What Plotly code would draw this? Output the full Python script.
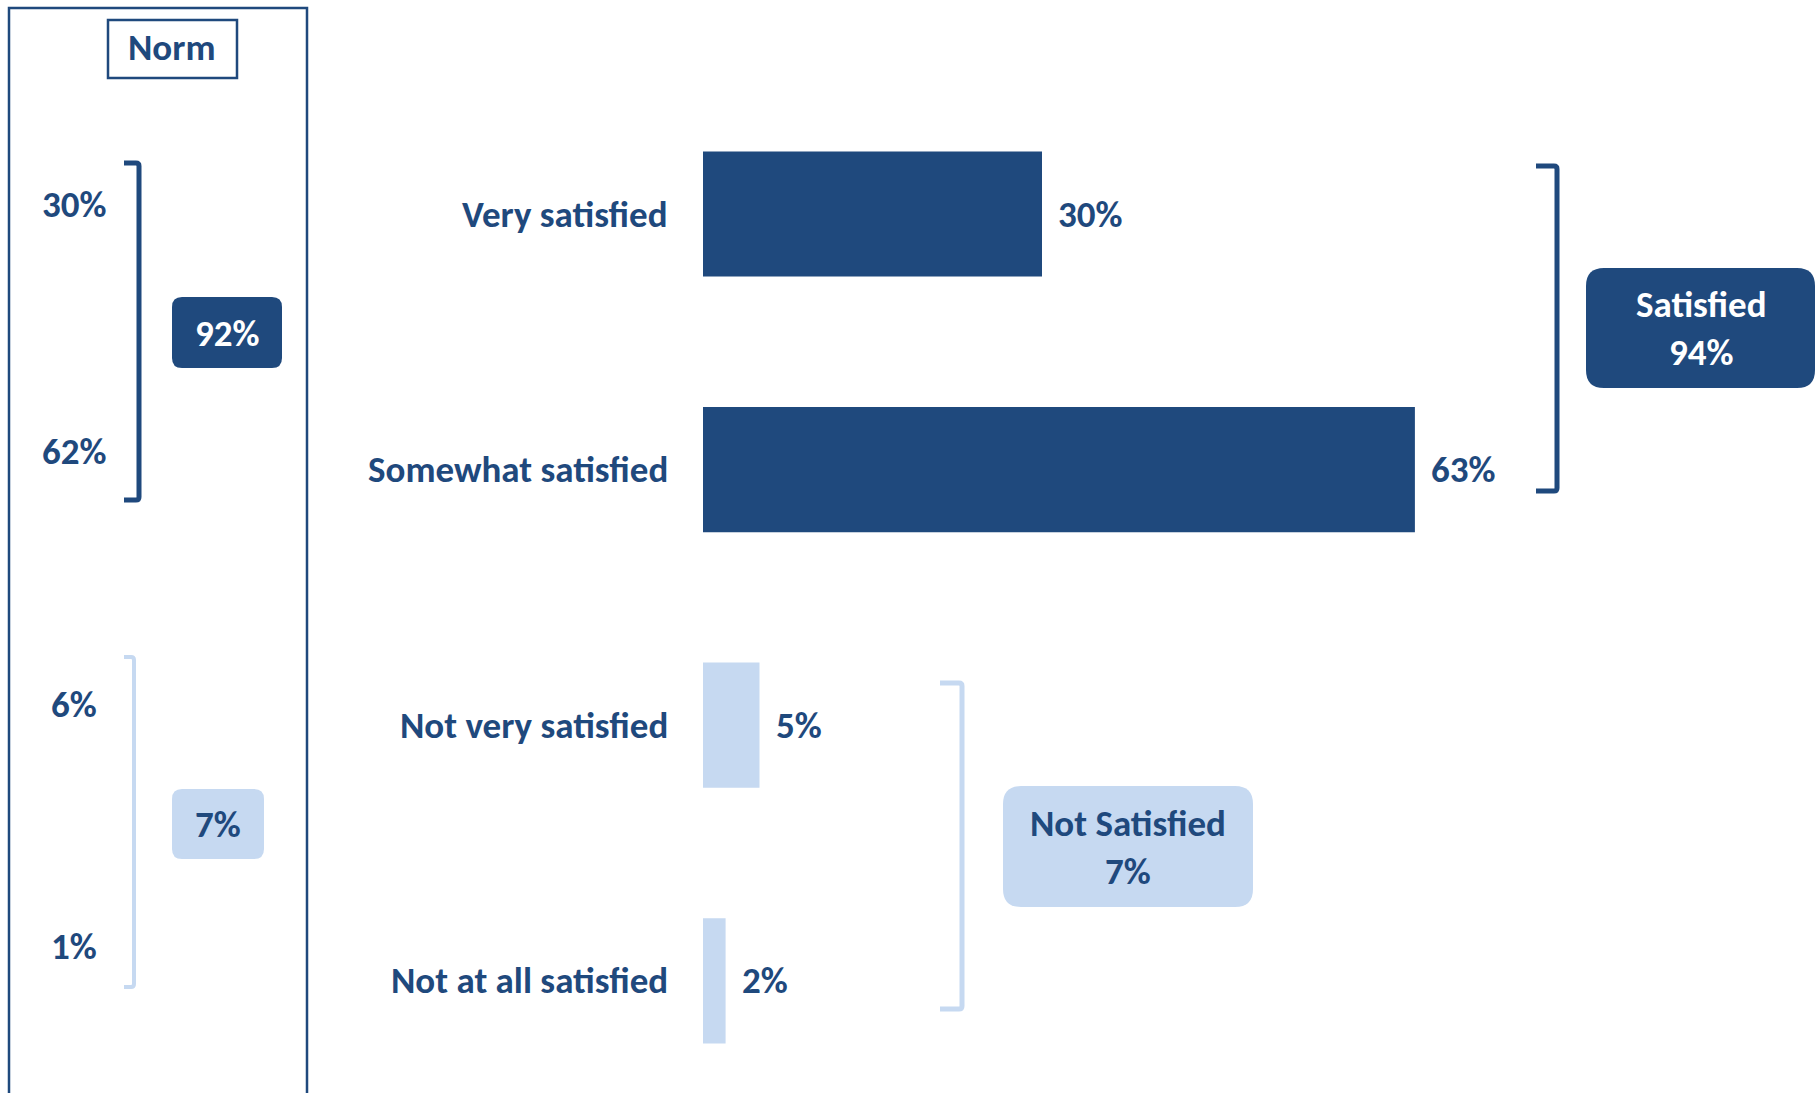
import plotly.graph_objects as go

# Survey results: satisfaction with the service
categories = ["Very satisfied", "Somewhat satisfied", "Not very satisfied", "Not at all satisfied"]
values = [30, 63, 5, 2]

# Benchmark (norm) values for the same answers
norm_values = [30, 62, 6, 1]
norm_net_values = [92, 7]
norm_title = "Norm"

# Net groupings
net_labels = ["Satisfied", "Not Satisfied"]
net_values = [94, 7]

DARK = "#1F497D"
LIGHT = "#C6D9F1"
bar_colors = [DARK, DARK, LIGHT, LIGHT]
FONT = "Carlito, Lato, sans-serif"
FS = 37

W, H = 1818, 1093
PX_PER_PCT = 11.3      # horizontal scale of the bar axis
BAR_X0 = 703           # pixel where the value axis starts
ROW0 = 214             # pixel centre of the first row
ROW_STEP = 255.6       # pixel distance between rows

fig = go.Figure()

fig.add_trace(go.Bar(
    x=values, y=categories, orientation="h", base=0,
    marker=dict(color=bar_colors, line=dict(width=0)),
    width=0.49, hoverinfo="skip", showlegend=False,
))
# empty trace that carries the pixel-based overlay axes
fig.add_trace(go.Scatter(x=[], y=[], xaxis="x2", yaxis="y2", showlegend=False))

annotations = []
shapes = []

# category labels and value labels next to each bar
for cat, v in zip(categories, values):
    annotations.append(dict(x=0, y=cat, xref="x", yref="y", text=cat, showarrow=False,
                            xanchor="right", xshift=-33,
                            font=dict(family=FONT, size=FS, color=DARK, weight="bold")))
    annotations.append(dict(x=v, y=cat, xref="x", yref="y", text=f"{v}%", showarrow=False,
                            xanchor="left", xshift=14,
                            font=dict(family=FONT, size=FS, color=DARK, weight="bold")))


def rrect(x0, y0, x1, y1, r):
    return (f"M{x0 + r},{y0} L{x1 - r},{y0} Q{x1},{y0} {x1},{y0 + r} "
            f"L{x1},{y1 - r} Q{x1},{y1} {x1 - r},{y1} L{x0 + r},{y1} "
            f"Q{x0},{y1} {x0},{y1 - r} L{x0},{y0 + r} Q{x0},{y0} {x0 + r},{y0} Z")


def bracket(xt, xv, y0, y1, r=3):
    return (f"M{xt},{y0} L{xv - r},{y0} Q{xv},{y0} {xv},{y0 + r} "
            f"L{xv},{y1 - r} Q{xv},{y1} {xv - r},{y1} L{xt},{y1}")


def px_shape(path, fill=None, line_color=None, line_width=0):
    d = dict(type="path", path=path, xref="x2", yref="y2", layer="above",
             line=dict(color=line_color or "rgba(0,0,0,0)", width=line_width))
    d["fillcolor"] = fill if fill else "rgba(0,0,0,0)"
    return d


def px_text(x, y, text, color=DARK, size=FS):
    return dict(x=x, y=y, xref="x2", yref="y2", text=text, showarrow=False,
                xanchor="center", yanchor="middle",
                font=dict(family=FONT, size=size, color=color, weight="bold"))


# norm panel frame and title box
shapes.append(dict(type="rect", xref="x2", yref="y2", x0=9, y0=8, x1=307, y1=1110,
                   line=dict(color=DARK, width=2.5), fillcolor="rgba(0,0,0,0)"))
shapes.append(dict(type="rect", xref="x2", yref="y2", x0=108, y0=20, x1=237, y1=78,
                   line=dict(color=DARK, width=2.5), fillcolor="white"))
annotations.append(px_text(172, 47, norm_title))

# norm values
norm_y = [204, 451, 704, 946]
for v, y in zip(norm_values, norm_y):
    annotations.append(px_text(74, y, f"{v}%"))

# norm brackets and net boxes
shapes.append(px_shape(bracket(124, 139, 163, 500), line_color=DARK, line_width=5))
shapes.append(px_shape(rrect(172, 297, 282, 368, 10), fill=DARK))
annotations.append(px_text(227, 333, f"{norm_net_values[0]}%", color="white"))

shapes.append(px_shape(bracket(124, 134, 657, 987), line_color=LIGHT, line_width=4))
shapes.append(px_shape(rrect(172, 789, 264, 859, 10), fill=LIGHT))
annotations.append(px_text(218, 824, f"{norm_net_values[1]}%"))

# net brackets and boxes for the main chart
shapes.append(px_shape(bracket(1536, 1557, 166, 491), line_color=DARK, line_width=5))
shapes.append(px_shape(rrect(1586, 268, 1815, 388, 18), fill=DARK))
annotations.append(px_text(1701, 328, f"{net_labels[0]}<br>{net_values[0]}%", color="white"))

shapes.append(px_shape(bracket(940, 962, 683, 1009), line_color=LIGHT, line_width=5))
shapes.append(px_shape(rrect(1003, 786, 1253, 907, 18), fill=LIGHT))
annotations.append(px_text(1128, 847, f"{net_labels[1]}<br>{net_values[1]}%"))

fig.update_layout(
    width=W, height=H,
    margin=dict(l=0, r=0, t=0, b=0),
    paper_bgcolor="white", plot_bgcolor="white",
    showlegend=False,
    xaxis=dict(range=[-BAR_X0 / PX_PER_PCT, (W - BAR_X0) / PX_PER_PCT], domain=[0, 1],
               visible=False, fixedrange=True),
    yaxis=dict(type="category", categoryorder="array", categoryarray=categories,
               range=[(H - ROW0) / ROW_STEP, -ROW0 / ROW_STEP], domain=[0, 1],
               visible=False, fixedrange=True),
    xaxis2=dict(range=[0, W], overlaying="x", anchor="y2", visible=False, fixedrange=True),
    yaxis2=dict(range=[H, 0], overlaying="y", anchor="x2", visible=False, fixedrange=True),
    shapes=shapes,
    annotations=annotations,
)

fig.write_html("out.html", config=dict(displayModeBar=False))
